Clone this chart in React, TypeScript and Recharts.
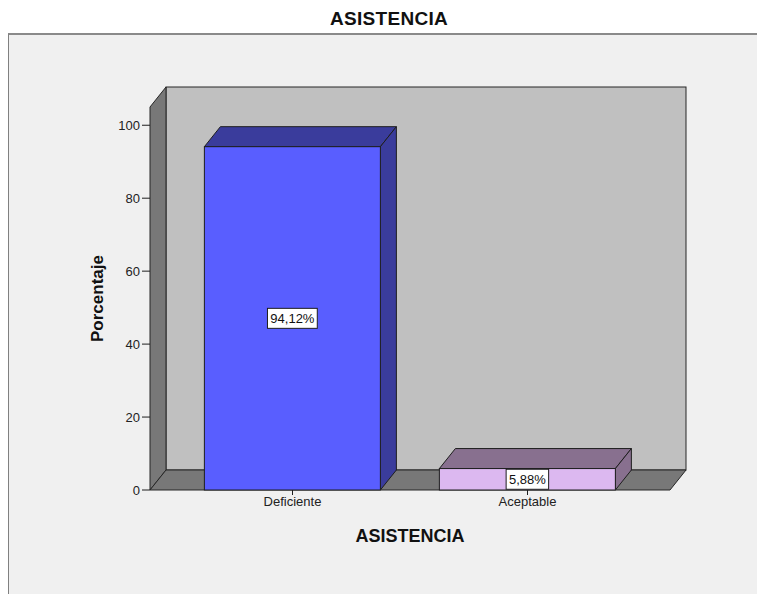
import React from "react";
import { BarChart, Bar, XAxis, YAxis, ReferenceArea, LabelList } from "recharts";

// ---- data ----
const categories = ["Deficiente", "Aceptable"];
const percentages = [94.12, 5.88];
const yTicks = [0, 20, 40, 60, 80, 100];

const data = categories.map((name, i) => ({ name, value: percentages[i] }));

// ---- styles ----
const FRONT = ["#595eff", "#dcb8f0"];
const SIDE = ["#3a3c9c", "#88708f"];
const FONT = "'Liberation Sans', Arial, sans-serif";
const DX = 16;
const DY = 20;
const PAD = 25;
const Y_MAX = 105;

function Bar3D(props: any) {
  const { x, y, width, height, index } = props;
  const front = FRONT[index % FRONT.length];
  const dark = SIDE[index % SIDE.length];
  const r = x + width;
  const b = y + height;
  return (
    <g stroke="#1e1e1e" strokeWidth={1}>
      <polygon points={`${x},${y} ${x + DX},${y - DY} ${r + DX},${y - DY} ${r},${y}`} fill={dark} />
      <polygon points={`${r},${y} ${r + DX},${y - DY} ${r + DX},${b - DY} ${r},${b}`} fill={dark} />
      <rect x={x} y={y} width={width} height={height} fill={front} />
    </g>
  );
}

function Walls(props: any) {
  const { x, y, width, height } = props;
  const L = x - PAD;
  const R = x + width + PAD;
  const T = y;
  const B = y + height;
  return (
    <g stroke="#262626" strokeWidth={1}>
      <rect x={L + DX} y={T - DY} width={R - L} height={B - T} fill="#c0c0c0" />
      <polygon points={`${L},${B} ${L},${T} ${L + DX},${T - DY} ${L + DX},${B - DY}`} fill="#787878" />
      <polygon points={`${L},${B} ${R},${B} ${R + DX},${B - DY} ${L + DX},${B - DY}`} fill="#787878" />
    </g>
  );
}

function ValueTag(props: any) {
  const { x, y, width, height, value } = props;
  const txt = Number(value).toFixed(2).replace(".", ",") + "%";
  const cx = x + width / 2;
  const cy = y + height / 2;
  const w = txt.length * 7.3 + 6;
  const h = 20;
  return (
    <g>
      <rect x={cx - w / 2} y={cy - h / 2} width={w} height={h} fill="#ffffff" stroke="#1e1e1e" strokeWidth={1} />
      <text x={cx} y={cy} textAnchor="middle" dominantBaseline="central" fontSize={13} fontFamily={FONT} fill="#111">
        {txt}
      </text>
    </g>
  );
}

export default function App() {
  return (
    <div style={{ position: "relative", width: 757, height: 594, background: "#ffffff", overflow: "hidden" }}>
      <style>{"body{margin:0}"}</style>
      <div
        style={{
          position: "absolute",
          left: 0,
          top: 8,
          width: 778,
          textAlign: "center",
          fontFamily: FONT,
          fontWeight: "bold",
          fontSize: 19,
          letterSpacing: 0.3,
          color: "#111",
        }}
      >
        ASISTENCIA
      </div>
      <div
        style={{
          position: "absolute",
          left: 8,
          top: 33,
          width: 780,
          height: 600,
          background: "#f0f0f0",
          borderLeft: "1px solid #808080",
          borderTop: "2px solid #8a8a8a",
        }}
      />
      <div style={{ position: "absolute", left: 0, top: 0 }}>
        <BarChart
          width={757}
          height={594}
          data={data}
          margin={{ top: 107, right: 87, bottom: 44, left: 80 }}
          barCategoryGap="12.5%"
        >
          <ReferenceArea y1={0} y2={Y_MAX} shape={<Walls />} />
          <XAxis
            dataKey="name"
            padding={{ left: PAD, right: PAD }}
            axisLine={false}
            tickLine={{ stroke: "#1e1e1e" }}
            tickSize={5}
            height={60}
            tick={{ fontSize: 13, fontFamily: FONT, fill: "#222" }}
            label={{
              value: "ASISTENCIA",
              position: "insideBottom",
              offset: 8,
              style: { fontSize: 18, fontWeight: "bold", fontFamily: FONT, fill: "#111" },
            }}
          />
          <YAxis
            type="number"
            domain={[0, Y_MAX]}
            ticks={yTicks}
            width={70}
            axisLine={false}
            tickLine={{ stroke: "#1e1e1e" }}
            tickSize={8}
            tickMargin={2}
            tick={{ fontSize: 13, fontFamily: FONT, fill: "#222" }}
            label={{
              value: "Porcentaje",
              angle: -90,
              position: "insideLeft",
              offset: 17,
              style: { textAnchor: "middle", fontSize: 17, fontWeight: "bold", fontFamily: FONT, fill: "#111" },
            }}
          />
          <Bar dataKey="value" shape={<Bar3D />} isAnimationActive={false}>
            <LabelList dataKey="value" content={<ValueTag />} />
          </Bar>
        </BarChart>
      </div>
    </div>
  );
}
